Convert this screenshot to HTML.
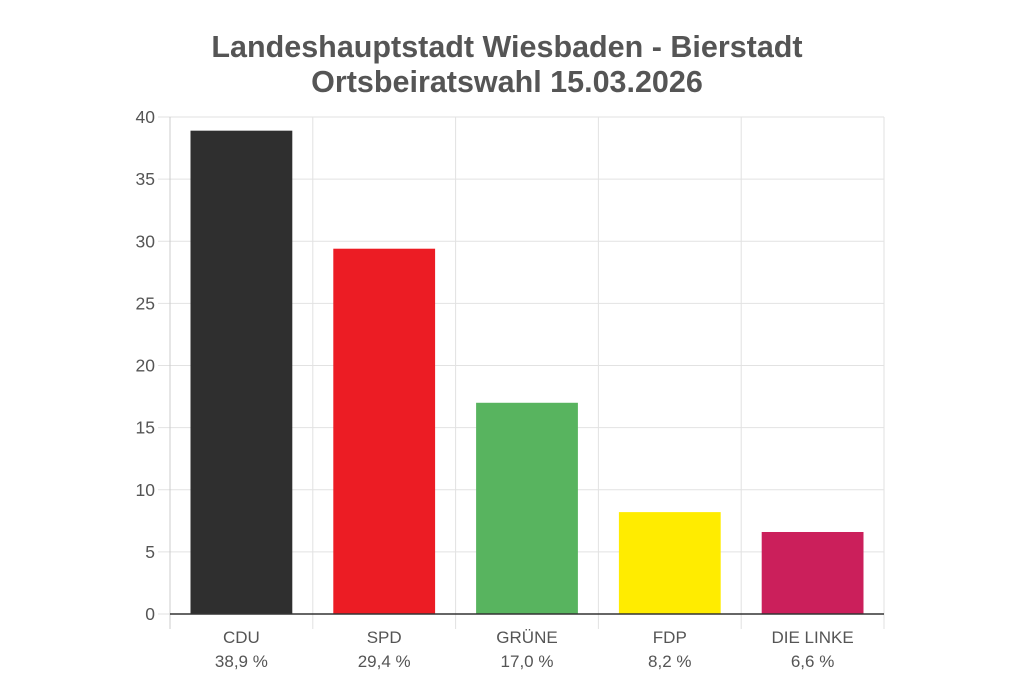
<!DOCTYPE html>
<html><head><meta charset="utf-8"><style>
html,body{margin:0;padding:0;background:#fff;}
svg{display:block;font-family:"Liberation Sans",Arial,sans-serif;}
</style></head><body>
<svg id="chart" width="1024" height="682">
<text x="507" y="57" text-anchor="middle" font-size="30.5" font-weight="bold" fill="#555">Landeshauptstadt Wiesbaden - Bierstadt</text>
<text x="507" y="92" text-anchor="middle" font-size="30.5" font-weight="bold" fill="#555">Ortsbeiratswahl 15.03.2026</text>
<g id="grid"></g><g id="bars"></g><g id="axes"></g>
</svg>
<script>
const categories=["CDU","SPD","GRÜNE","FDP","DIE LINKE"];
const values=[38.9,29.4,17.0,8.2,6.6];
const valueLabels=["38,9 %","29,4 %","17,0 %","8,2 %","6,6 %"];
const colors=["#2f2f2f","#ec1c24","#58b45f","#ffec00","#cb1f5b"];
const yTicks=[0,5,10,15,20,25,30,35,40];
const NS="http://www.w3.org/2000/svg";
const X0=170,X1=884,Y0=614,Y1=117,YMAX=40;
const bw=(X1-X0)/categories.length;
const y=v=>Y0-(v/YMAX)*(Y0-Y1);
const x=i=>X0+i*bw;
function mk(t,a,p){const e=document.createElementNS(NS,t);for(const k in a)e.setAttribute(k,a[k]);p.appendChild(e);return e;}
const grid=document.getElementById('grid'),bars=document.getElementById('bars'),axes=document.getElementById('axes');
yTicks.forEach(t=>{
 const l=mk('line',{x1:158,x2:X1,y1:y(t),y2:y(t),stroke:'#e2e2e2','stroke-width':1},grid);
 
 
 const tx=mk('text',{x:155,y:y(t)+6,'text-anchor':'end','font-size':17.5,fill:'#555'},axes);
 tx.textContent=t;
 
 
});
for(let i=0;i<=categories.length;i++){
 const l=mk('line',{x1:x(i),x2:x(i),y1:Y1,y2:629,stroke:i==0?'#ccc':'#e2e2e2','stroke-width':1},grid);
 
 
}
categories.forEach((c,i)=>{
 const r=mk('rect',{x:x(i)+20.5,y:y(values[i]),width:bw-41,height:Y0-y(values[i]),fill:colors[i]},bars);
 
 
 const t1=mk('text',{x:x(i)+bw/2,y:643,'text-anchor':'middle','font-size':17,fill:'#555'},axes);
 t1.textContent=c;
 
 
 const t2=mk('text',{x:x(i)+bw/2,y:667,'text-anchor':'middle','font-size':17,fill:'#555'},axes);
 t2.textContent=valueLabels[i];
 
 
});
const ax=mk('line',{x1:X0,x2:X1,y1:Y0,y2:Y0,stroke:'#333','stroke-width':1.5},axes);


</script>
</body></html>
